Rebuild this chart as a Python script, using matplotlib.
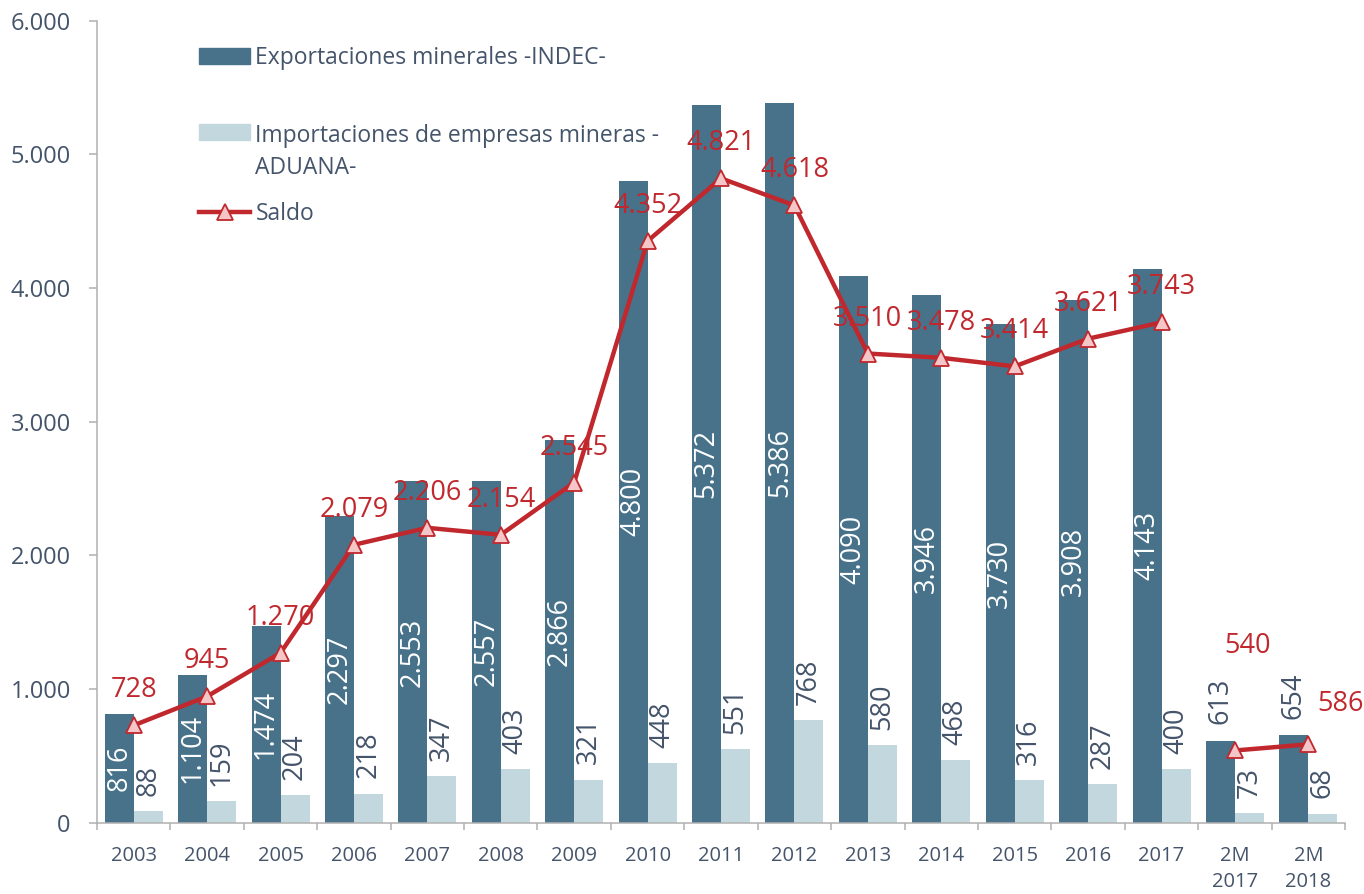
import numpy as np
import matplotlib
matplotlib.use("Agg")
import matplotlib.pyplot as plt
from matplotlib.patches import Patch
from matplotlib.lines import Line2D

# data
categories = ["2003", "2004", "2005", "2006", "2007", "2008", "2009", "2010", "2011",
              "2012", "2013", "2014", "2015", "2016", "2017", "2M\n2017", "2M\n2018"]
exportaciones = [816, 1104, 1474, 2297, 2553, 2557, 2866, 4800, 5372, 5386,
                 4090, 3946, 3730, 3908, 4143, 613, 654]
importaciones = [88, 159, 204, 218, 347, 403, 321, 448, 551, 768,
                 580, 468, 316, 287, 400, 73, 68]
saldo = [728, 945, 1270, 2079, 2206, 2154, 2545, 4352, 4821, 4618,
         3510, 3478, 3414, 3621, 3743, 540, 586]

DARK = "#48728a"
LIGHT = "#c3d7de"
RED = "#c0282e"
PINK = "#f4c6c8"
GREY_TXT = "#44546a"
AXIS = "#b0b0b0"

plt.rcParams["font.family"] = ["Open Sans", "DejaVu Sans"]


def fmt(v):
    return f"{v:,}".replace(",", ".")


fig = plt.figure(figsize=(13.64, 8.94), dpi=100)
ax = fig.add_axes([0.0711, 0.0798, 0.9150, 0.8970])

x = np.arange(len(categories))
w = 0.395
b1 = ax.bar(x - w / 2, exportaciones, w, color=DARK, zorder=2)
b2 = ax.bar(x + w / 2, importaciones, w, color=LIGHT, zorder=2)

# saldo line: annual series and the two-month comparison are separate segments
n_years = 15
line_kw = dict(color=RED, lw=3.2, marker="^", ms=12, mfc=PINK, mec=RED, mew=1.3, zorder=4)
ax.plot(x[:n_years], saldo[:n_years], **line_kw)
ax.plot(x[n_years:], saldo[n_years:], **line_kw)

# bar labels
inside = [fmt(v) if i < n_years else "" for i, v in enumerate(exportaciones)]
outside = [fmt(v) if i >= n_years else "" for i, v in enumerate(exportaciones)]
ax.bar_label(b1, labels=inside, label_type="center", rotation=90, color="white",
             fontsize=19.5, zorder=5)
ax.bar_label(b1, labels=outside, label_type="edge", rotation=90, color=GREY_TXT,
             fontsize=19.5, padding=12)
ax.bar_label(b2, labels=[fmt(v) for v in importaciones], label_type="edge", rotation=90,
             color=GREY_TXT, fontsize=19.5, padding=11)

# saldo labels
offsets = {15: (13, 104), 16: (32, 40)}
for i, v in enumerate(saldo):
    dx, dy = offsets.get(i, (0, 35))
    ax.annotate(fmt(v), (x[i], v), xytext=(dx, dy), textcoords="offset pixels",
                ha="center", va="center", color=RED, fontsize=19.5, zorder=6)

# axes styling
ax.set_xlim(-0.5, len(categories) - 0.5)
ax.set_ylim(0, 6000)
ax.set_yticks(np.arange(0, 6001, 1000))
ax.set_yticklabels([fmt(int(t)) for t in np.arange(0, 6001, 1000)])
ax.set_xticks(x)
ax.set_xticklabels(categories, linespacing=1.35)
ax.set_xticks(np.arange(-0.5, len(categories), 1), minor=True)
ax.tick_params(axis="x", which="major", length=0, pad=17, labelsize=14.5, labelcolor=GREY_TXT)
ax.tick_params(axis="x", which="minor", length=5, width=1.1, color=AXIS)
ax.tick_params(axis="y", length=5.8, width=1.1, color=AXIS, labelsize=17,
               labelcolor=GREY_TXT, pad=13)
for s in ["top", "right"]:
    ax.spines[s].set_visible(False)
for s in ["left", "bottom"]:
    ax.spines[s].set_color(AXIS)
    ax.spines[s].set_linewidth(1.1)

# legend split in two so the spacing matches the original
leg_kw = dict(loc="upper left", frameon=False, fontsize=16.5, labelcolor=GREY_TXT,
              handlelength=2.2, handletextpad=0.25, borderpad=0, borderaxespad=0)
leg1 = ax.legend([Patch(color=DARK)], ["Exportaciones minerales -INDEC-"],
                 bbox_to_anchor=(0.082, 0.968), **leg_kw)
ax.add_artist(leg1)
leg2 = ax.legend([Patch(color=LIGHT), Line2D([], [], **line_kw)],
                 ["Importaciones de empresas mineras -\nADUANA-", "Saldo"],
                 bbox_to_anchor=(0.082, 0.871), labelspacing=0.95, **leg_kw)
leg2.get_texts()[0].set_linespacing(1.45)
leg2._legend_handle_box.get_children()[0].get_children()[0].align = "top"

fig.savefig("out.png", dpi=100)
